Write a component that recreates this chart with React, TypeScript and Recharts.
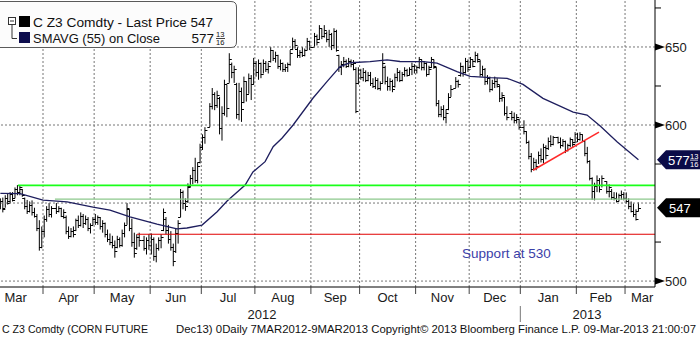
import React from "react";
import {
  ComposedChart,
  Bar,
  Line,
  XAxis,
  YAxis,
  ReferenceLine,
  ReferenceDot,
} from "recharts";

// ---------------- DATA ----------------
const highs = [
  553, 553.5, 555, 556, 557, 557, 560, 561.5, 561, 559,
  553.5, 552, 551, 551.7, 547, 543, 539, 535, 542, 548,
  550, 548, 550, 548, 547, 546, 542, 535, 534, 535,
  540, 542, 544, 543, 542, 541, 537, 541, 543, 542,
  541, 539, 537.5, 533, 530.5, 529, 526, 529, 528, 533,
  537.5, 550, 546, 540, 531, 530, 531, 529, 528, 530,
  530.5, 528, 524, 528, 530, 546.5, 541, 536, 532, 524,
  534, 539, 559, 558, 553, 562.6, 568, 573, 579, 576,
  588, 594, 598.6, 614, 623.7, 621, 622, 618, 612, 629,
  626, 646, 640, 638, 627, 627, 624, 631, 628, 633,
  632, 643, 641, 642, 640, 642, 641, 640, 650, 648,
  647, 645, 642, 640, 639, 640, 648, 656, 655, 650,
  648, 650, 649, 655.8, 654, 659, 658, 664, 662, 664,
  660, 661, 659, 662, 661, 645, 641, 643.6, 642, 643,
  642, 641.6, 637, 637, 636, 636.5, 635, 634, 634, 630,
  630.7, 630, 628, 646, 638, 631, 630, 629, 633, 636.5,
  635, 634, 637, 636, 637, 640, 639, 638, 643.6, 642,
  641, 640, 638, 643.6, 642, 637, 616, 612, 612.7, 610,
  620.4, 625.6, 630.7, 629, 640, 638, 643, 642, 643.6, 642,
  647, 646, 641.6, 638, 636.5, 632, 631, 629, 631, 630,
  625.6, 621, 618, 612, 609, 608, 607, 604, 603, 596,
  590, 582, 579, 578, 583, 585, 588, 587, 592, 593.4,
  593, 592.5, 592, 591, 590, 588, 592, 591, 595.4, 595,
  595.4, 594, 590, 586, 577.4, 566.5, 563, 567.7, 566, 567.7,
  564, 562, 559, 557, 556.8, 556, 558, 557, 556.8, 553,
  551, 549.7, 546, 550.4,
];
const lows = [
  546, 544, 547, 549, 550, 551, 553, 555, 555, 554,
  546, 543, 544, 542, 540.7, 532, 519.5, 521, 528, 538,
  541, 540.7, 543, 544, 541, 540, 530, 527, 528, 528,
  532, 534, 535, 534, 536, 532, 530.5, 535.6, 536, 536,
  533, 531, 528, 525, 523, 521, 515, 521, 521.5, 522,
  528, 536, 532, 522, 515, 520, 522, 519.5, 517, 520,
  517, 513, 512, 519.5, 521, 532, 530, 524, 519.5, 509.5,
  518, 524, 541, 546, 545, 550, 560, 562, 563, 562.6,
  575.4, 584, 588, 598.6, 610, 609.5, 611, 594, 590, 606,
  605, 627, 630, 627, 604, 603, 602, 614, 615, 620,
  616, 626, 631, 629, 630, 633, 634, 633, 640, 641,
  640, 636, 635, 634, 634, 634, 638, 648, 649, 643,
  643, 643.6, 644, 648, 648, 650, 651, 654.5, 655, 656,
  653, 650, 648, 649, 647, 634, 632, 637, 636.5, 637,
  637, 635, 607.6, 626, 629, 628, 627.5, 628, 625, 623.7,
  623, 622.4, 622, 627, 626, 622, 622, 621, 624, 628,
  627.5, 628, 631, 631, 632, 632, 633, 633, 636, 635,
  635, 631, 632, 636.5, 636, 612, 605, 605, 603, 601,
  609.5, 618, 623.7, 624, 631, 631, 633, 634, 636.5, 637,
  640, 640, 631, 631, 625.6, 626, 621, 622, 623.7, 624,
  614.7, 615, 606, 603, 603, 601, 601, 597, 594, 588,
  578, 569.7, 571, 571, 575, 576, 575.4, 578, 584, 586,
  587, 588, 585, 586, 582, 583, 585.7, 586, 588.3, 589,
  590, 589, 580, 575.4, 564.5, 552, 551.7, 557, 556.8, 560,
  556, 553.6, 552, 551.7, 550.4, 551, 552, 551.7, 549.7, 546,
  544, 541, 538.8, 544.5,
];
const opens = [
  548, 551, 547, 553, 551, 556, 553, 559, 557, 559,
  553, 548, 545, 549, 544, 542, 534, 522, 532, 540,
  546, 543, 547, 545, 547, 542, 541, 532, 529, 532,
  533, 539, 536, 542, 537, 540, 534, 536, 540, 538,
  541, 535, 537, 530, 527, 525, 523, 522, 527, 523,
  531, 536, 546, 534, 525, 521, 528, 526, 521, 526,
  523, 527, 516, 521, 526, 533, 540, 533, 527, 522,
  519, 531, 541, 557, 550, 551, 561, 566, 571, 565,
  576, 586, 592, 599, 612, 620, 613, 617, 598, 608,
  626, 627, 639, 634, 626, 607, 622, 615, 628, 620,
  630, 626, 640, 634, 640, 633, 640, 636, 641, 648,
  643, 645, 638, 640, 636, 637, 639, 649, 654, 649,
  645, 647, 645, 648, 654, 650, 657, 655, 662, 657,
  659, 655, 658, 651, 660, 645, 637, 639, 641, 638,
  641, 639, 636, 627, 635, 631, 634, 629, 632, 627,
  625, 629, 624, 627, 637, 628, 625, 628, 625, 631,
  634, 629, 633, 635, 632, 636, 638, 635, 637, 642,
  637, 640, 633, 637, 642, 637, 614, 607, 610, 605,
  610, 618, 624, 628, 632, 638, 634, 641, 637, 642,
  641, 645, 641, 633, 636, 628, 630, 623, 627, 628,
  625, 617, 618, 608, 608, 605, 603, 604, 599, 596,
  589, 580, 572, 576, 574, 581, 578, 586, 585, 590,
  588, 592, 589, 587, 590, 584, 587, 591, 589, 594,
  591, 594, 590, 582, 577, 566, 558, 561, 565, 559,
  564, 558, 558, 554, 553, 551, 555, 556, 553, 551,
  548, 545, 543, 545,
];
const closes = [
  551, 546, 553, 550, 556, 552, 559, 557, 560, 555,
  548, 545, 549, 544, 542, 534, 522, 532, 540, 546,
  543, 547, 545, 547, 542, 544, 532, 529, 532, 530,
  539, 536, 542, 537, 540, 534, 536, 540, 538, 541,
  535, 537, 530, 527, 525, 523, 519, 527, 523, 531,
  536, 547, 534, 525, 518, 528, 526, 521, 526, 523,
  527, 516, 521, 526, 528, 544, 533, 527, 522, 513,
  531, 537, 557, 550, 548, 560, 566, 571, 565, 574,
  586, 592, 597, 612, 620, 613, 619, 598, 608, 626,
  611, 642, 634, 636, 607, 622, 610, 628, 620, 630,
  626, 640, 634, 640, 633, 640, 636, 638, 648, 643,
  645, 638, 640, 636, 637, 639, 646, 654, 651, 645,
  647, 645, 648, 654, 650, 657, 653, 662, 657, 661,
  655, 658, 651, 660, 648, 637, 639, 641, 638, 641,
  639, 640, 609, 635, 631, 634, 629, 632, 627, 625,
  629, 624, 627, 640, 628, 625, 628, 623, 631, 634,
  629, 633, 635, 632, 636, 638, 635, 637, 642, 637,
  640, 633, 636, 642, 638, 614, 607, 610, 605, 608,
  618, 623, 628, 626, 638, 634, 641, 636, 642, 638,
  645, 642, 633, 636, 628, 630, 623, 627, 628, 626,
  617, 619, 608, 605, 605, 603, 605, 599, 596, 589,
  580, 572, 576, 574, 581, 578, 586, 581, 590, 588,
  592, 589, 587, 590, 584, 587, 591, 588, 594, 591,
  594, 590, 582, 577, 566, 558, 561, 565, 559, 566,
  558, 560, 554, 553, 551, 555, 556, 553, 551, 548,
  545, 543, 540, 547,
];

// weekday slots (from 7 Mar 2012) that are exchange holidays
const holidaySlots = [22, 58, 85, 128, 186, 209, 214, 228, 248];
const weekdaySlotCount = 263;

// 55-day moving average (slot, value)
const smaSlots = [
  0, 8.1, 17.5, 27.4, 38, 45, 53.2, 64.3, 72.5, 76.6, 82.8, 89, 93.1, 100.5,
  103.7, 108.7, 112, 115.7, 120.2, 128.4, 134.1, 139.5, 143.6, 151.8, 158.8,
  164.1, 173.6, 179.3, 187.5, 192.9, 201.1, 208.1, 214.6, 222.8, 235.2, 240.9,
  246.3, 253.2, 262,
];
const smaValues = [
  556.2, 556.0, 551.9, 550.8, 547.4, 545.5, 541.2, 536.5, 533.5, 534.0, 535.9,
  544.4, 551.3, 561.5, 569.9, 576.5, 586.1, 591.7, 600.0, 617.3, 627.8, 637.4,
  639.9, 640.6, 641.7, 640.7, 640.6, 639.6, 634.2, 631.1, 630.3, 629.9, 626.0,
  617.1, 608.3, 606.4, 599.4, 589.3, 577.8,
];
const smaLastWhole = 577;
const smaLastNum = 13;
const smaLastDen = 16;
const smaLastValue = 577.8125;

const monthLabels = ["Mar", "Apr", "May", "Jun", "Jul", "Aug", "Sep", "Oct", "Nov", "Dec", "Jan", "Feb", "Mar"];
const monthLabelSlots = [6.25, 28, 50, 72, 93.5, 116, 137.5, 159, 181.5, 203, 225, 246.5, 263.5];
const monthBoundarySlots = [17.5, 38.5, 61.5, 82.5, 104.5, 127.5, 147.5, 170.5, 192.5, 213.5, 236.5, 256.5];
const yearLabels = ["2012", "2013"];
const yearLabelSlots = [107.4, 240.9];
const yearBoundarySlot = 213.5;

const gridValues = [500, 550, 600, 650];
const majorTickValues = [500, 600, 650];
const minorTickValues = [525, 575, 625, 675];

// annotation lines
const levelValues = [561.3, 552.5, 530];
const levelStartSlots = [7.2, 22.4, 56.1];
const trendSlots = [218.7, 245.8];
const trendValues = [571, 595.5];
const supportText = "Support at 530";
const supportSlot = 190;
const supportValue = 514.3;

const titleText = "C Z3 Comdty - Last Price";
const smaText = "SMAVG (55) on Close";
const footerLeft = "C Z3 Comdty (CORN FUTURE";
const footerRight =
  "Dec13) 0Daily 7MAR2012-9MAR2013  Copyright\u00a9 2013 Bloomberg Finance L.P. 09-Mar-2013 21:00:07";

// ---------------- BUILD ----------------
const W = 700;
const H = 338;
const X_DOMAIN: [number, number] = [-0.16, 268.8];
const Y_DOMAIN: [number, number] = [496.2, 680.1];
const FONT = "'Liberation Sans', Arial, sans-serif";

const tradingSlots: number[] = [];
for (let s = 0; s < weekdaySlotCount; s++) {
  if (!holidaySlots.includes(s)) tradingSlots.push(s);
}
const barRows = highs.map((h, k) => ({
  s: tradingSlots[k],
  range: [lows[k], h],
  h,
  l: lows[k],
  o: opens[k],
  c: closes[k],
}));
const smaRows = smaSlots.map((s, i) => ({ s, v: smaValues[i] }));
const lastPrice = closes[closes.length - 1];

const OhlcShape = (props: any) => {
  const { x, y, width, height, payload } = props;
  if (x == null || y == null || !payload) return null;
  const cx = x + width / 2;
  const top = Math.min(y, y + height);
  const bottom = Math.max(y, y + height);
  const span = payload.h - payload.l;
  const py = (v: number) =>
    top + (span > 0 ? ((payload.h - v) / span) * (bottom - top) : 0);
  const oy = Math.round(py(payload.o)) + 0.5;
  const cy = Math.round(py(payload.c)) + 0.5;
  return (
    <g>
      <line x1={cx} x2={cx} y1={top} y2={bottom} stroke="#000" strokeWidth={1} />
      <line x1={cx - 2.5} x2={cx} y1={oy} y2={oy} stroke="#000" strokeWidth={1} />
      <line x1={cx} x2={cx + 2.5} y1={cy} y2={cy} stroke="#000" strokeWidth={1} />
    </g>
  );
};

const MonthTick = (props: any) => {
  const { x, y, payload } = props;
  const v = payload.value;
  if (monthBoundarySlots.includes(v)) {
    return <line x1={x} x2={x} y1={y} y2={y + 7} stroke="#444" />;
  }
  const i = monthLabelSlots.indexOf(v);
  return (
    <text x={x} y={y + 15} textAnchor="middle" fontSize={13} fontFamily={FONT} fill="#1a1a1a">
      {monthLabels[i]}
    </text>
  );
};

const YearTick = (props: any) => {
  const { x, y, payload } = props;
  const v = payload.value;
  if (v === yearBoundarySlot) {
    return <line x1={x} x2={x} y1={y + 1} y2={y + 17} stroke="#777" />;
  }
  const i = yearLabelSlots.indexOf(v);
  return (
    <text x={x} y={y + 14} textAnchor="middle" fontSize={13} fontFamily={FONT} fill="#1a1a1a">
      {yearLabels[i]}
    </text>
  );
};

const YTick = (props: any) => {
  const { x, y, payload } = props;
  const v = payload.value;
  if (v === lastPrice) {
    return (
      <g>
        <polygon
          points={`${x + 2},${y} ${x + 11},${y - 9.5} ${x + 45},${y - 9.5} ${x + 45},${y + 9.5} ${x + 11},${y + 9.5}`}
          fill="#000"
        />
        <text x={x + 14} y={y + 5} fontSize={13} fontFamily={FONT} fill="#fff">
          {String(lastPrice)}
        </text>
      </g>
    );
  }
  if (v === smaLastValue) {
    return (
      <g>
        <polygon
          points={`${x + 2},${y} ${x + 11},${y - 9.5} ${x + 45},${y - 9.5} ${x + 45},${y + 9.5} ${x + 11},${y + 9.5}`}
          fill="#0b0b48"
        />
        <text x={x + 13} y={y + 5} fontSize={13} fontFamily={FONT} fill="#fff">
          {String(smaLastWhole)}
        </text>
        <text x={x + 35} y={y - 0.5} fontSize={7.5} fontFamily={FONT} fill="#fff">
          {String(smaLastNum)}
        </text>
        <line x1={x + 35} x2={x + 43} y1={y + 0.5} y2={y + 0.5} stroke="#fff" strokeWidth={0.8} />
        <text x={x + 35} y={y + 7.5} fontSize={7.5} fontFamily={FONT} fill="#fff">
          {String(smaLastDen)}
        </text>
      </g>
    );
  }
  if (minorTickValues.includes(v)) {
    return <line x1={x} x2={x + 6} y1={y} y2={y} stroke="#000" />;
  }
  if (majorTickValues.includes(v)) {
    return (
      <g>
        <polygon points={`${x},${y - 3.5} ${x + 10},${y} ${x},${y + 3.5}`} fill="#000" />
        <text x={x + 10} y={y + 4.7} fontSize={13} fontFamily={FONT} fill="#1a1a1a">
          {String(v)}
        </text>
      </g>
    );
  }
  return null;
};

const SupportLabel = (props: any) => {
  const vb = props.viewBox || {};
  return (
    <text x={vb.x} y={vb.y} fontSize={13.5} fontFamily={FONT} fill="#3a40a8">
      {supportText}
    </text>
  );
};

export default function App() {
  const yTicks = [...gridValues, ...minorTickValues, lastPrice, smaLastValue];
  return (
    <div style={{ position: "absolute", left: 0, top: 0, width: W, height: H, background: "#fff" }}>
      <ComposedChart
        width={W}
        height={H}
        data={barRows}
        margin={{ top: 0, right: 0, bottom: 16, left: 0 }}
      >
        <XAxis
          dataKey="s"
          type="number"
          domain={X_DOMAIN}
          allowDataOverflow
          ticks={[...monthLabelSlots, ...monthBoundarySlots]}
          interval={0}
          tickLine={false}
          tickSize={0}
          tickMargin={0}
          axisLine={{ stroke: "#000" }}
          height={18}
          tick={(p: any) => <MonthTick {...p} />}
        />
        <XAxis
          xAxisId="yr"
          dataKey="s"
          type="number"
          domain={X_DOMAIN}
          allowDataOverflow
          ticks={[...yearLabelSlots, yearBoundarySlot]}
          interval={0}
          tickLine={false}
          tickSize={0}
          tickMargin={0}
          axisLine={false}
          height={17}
          tick={(p: any) => <YearTick {...p} />}
        />
        <YAxis
          orientation="right"
          type="number"
          domain={Y_DOMAIN}
          allowDataOverflow
          ticks={yTicks}
          interval={0}
          width={45}
          tickLine={false}
          tickSize={0}
          tickMargin={0}
          axisLine={{ stroke: "#000" }}
          tick={(p: any) => <YTick {...p} />}
        />
        {gridValues.map((g) => (
          <ReferenceLine key={"h" + g} y={g} stroke="#777" strokeDasharray="2 2" ifOverflow="visible" />
        ))}
        {monthBoundarySlots.map((b) => (
          <ReferenceLine key={"v" + b} x={b} stroke="#777" strokeDasharray="2 2" ifOverflow="visible" />
        ))}
        <Bar
          dataKey="range"
          barSize={1}
          isAnimationActive={false}
          shape={(p: any) => <OhlcShape {...p} />}
        />
        <Line
          data={smaRows}
          dataKey="v"
          type="linear"
          stroke="#1e1e5e"
          strokeWidth={1.3}
          dot={false}
          activeDot={false}
          isAnimationActive={false}
        />
        <ReferenceLine
          segment={[{ x: levelStartSlots[0], y: levelValues[0] }, { x: X_DOMAIN[1], y: levelValues[0] }]}
          stroke="#1aff1a"
          strokeWidth={1.6}
          ifOverflow="visible"
        />
        <ReferenceLine
          segment={[{ x: levelStartSlots[1], y: levelValues[1] }, { x: X_DOMAIN[1], y: levelValues[1] }]}
          stroke="#8cc88c"
          strokeWidth={1.4}
          ifOverflow="visible"
        />
        <ReferenceLine
          segment={[{ x: levelStartSlots[2], y: levelValues[2] }, { x: X_DOMAIN[1], y: levelValues[2] }]}
          stroke="#e00000"
          strokeWidth={1.2}
          ifOverflow="visible"
        />
        <ReferenceLine
          segment={[{ x: trendSlots[0], y: trendValues[0] }, { x: trendSlots[1], y: trendValues[1] }]}
          stroke="#ff2a2a"
          strokeWidth={1.5}
          ifOverflow="visible"
        />
        <ReferenceDot
          x={supportSlot}
          y={supportValue}
          r={1}
          fill="none"
          stroke="none"
          ifOverflow="visible"
          label={(p: any) => <SupportLabel {...p} />}
        />
      </ComposedChart>

      <svg
        width={240}
        height={50}
        style={{ position: "absolute", left: 0, top: 0, pointerEvents: "none" }}
      >
        <path
          d="M -2 1.5 H 231 Q 236.5 1.5 236.5 7 V 42 Q 236.5 47.5 231 47.5 H -2 Z"
          fill="#fcfcfc"
          stroke="#5a5a5a"
        />
        <rect x={8.5} y={17.5} width={7} height={7} fill="#fff" stroke="#333" />
        <line x1={10} x2={14} y1={21} y2={21} stroke="#333" />
        <path d="M 12 24.5 V 38.5 H 17" fill="none" stroke="#333" />
        <rect x={19} y={16} width={11} height={11} fill="#000" />
        <rect x={19} y={32} width={11} height={11} fill="#0d0d4d" />
        <g fontFamily={FONT} fontSize={13.5} fill="#111">
          <text x={33} y={27} textLength={154} lengthAdjust="spacingAndGlyphs">
            {titleText}
          </text>
          <text x={213} y={27} textAnchor="end">
            {String(lastPrice)}
          </text>
          <text x={33} y={43} textLength={127} lengthAdjust="spacingAndGlyphs">
            {smaText}
          </text>
          <text x={214} y={43} textAnchor="end">
            {String(smaLastWhole)}
          </text>
        </g>
        <text x={216} y={37} fontFamily={FONT} fontSize={7.5} fill="#111">
          {String(smaLastNum)}
        </text>
        <line x1={216} x2={225} y1={38.5} y2={38.5} stroke="#111" strokeWidth={0.8} />
        <text x={216} y={45} fontFamily={FONT} fontSize={7.5} fill="#111">
          {String(smaLastDen)}
        </text>
      </svg>

      <svg
        width={W}
        height={17}
        style={{ position: "absolute", left: 0, top: 320, pointerEvents: "none" }}
      >
        <g fontFamily={FONT} fontSize={11} fill="#111" style={{ whiteSpace: "pre" }}>
          <text x={2} y={13} textLength={146} lengthAdjust="spacingAndGlyphs">
            {footerLeft}
          </text>
          <text x={176} y={13} textLength={520} lengthAdjust="spacingAndGlyphs">
            {footerRight}
          </text>
        </g>
      </svg>
    </div>
  );
}
